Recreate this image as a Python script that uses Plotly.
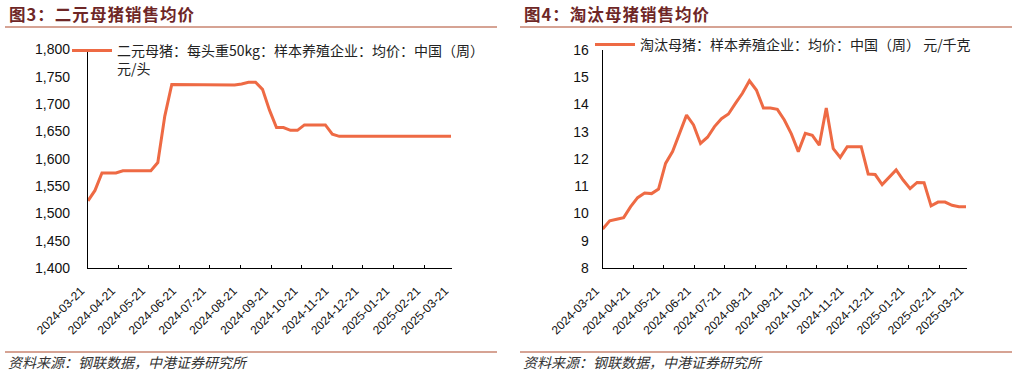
import plotly.graph_objects as go

W, H = 1017, 375

weeks = [
    "2024-03-21", "2024-03-28", "2024-04-04", "2024-04-11", "2024-04-18", "2024-04-25",
    "2024-05-02", "2024-05-09", "2024-05-16", "2024-05-23", "2024-05-30",
    "2024-06-06", "2024-06-13", "2024-06-20", "2024-06-27",
    "2024-07-04", "2024-07-11", "2024-07-18", "2024-07-25",
    "2024-08-01", "2024-08-08", "2024-08-15", "2024-08-22", "2024-08-29",
    "2024-09-05", "2024-09-12", "2024-09-19", "2024-09-26",
    "2024-10-03", "2024-10-10", "2024-10-17", "2024-10-24", "2024-10-31",
    "2024-11-07", "2024-11-14", "2024-11-21", "2024-11-28",
    "2024-12-05", "2024-12-12", "2024-12-19", "2024-12-26",
    "2025-01-02", "2025-01-09", "2025-01-16", "2025-01-23", "2025-01-30",
    "2025-02-06", "2025-02-13", "2025-02-20", "2025-02-27",
    "2025-03-06", "2025-03-13", "2025-03-20",
]

binary_sow_price = [
    1523, 1542, 1574, 1574, 1574, 1578, 1578, 1578, 1578, 1578,
    1593, 1678, 1736, 1736, 1736, 1736, 1736, 1736, 1735, 1735,
    1735, 1735, 1737, 1740, 1740, 1727, 1689, 1657, 1657, 1652,
    1652, 1662, 1662, 1662, 1662, 1645, 1641, 1641, 1641, 1641,
    1641, 1641, 1641, 1641, 1641, 1641, 1641, 1641, 1641, 1641,
    1641, 1641, 1641,
]

cull_sow_price = [
    9.43, 9.73, 9.79, 9.85, 10.25, 10.58, 10.75, 10.73, 10.9, 11.84,
    12.27, 12.94, 13.61, 13.25, 12.57, 12.8, 13.19, 13.48, 13.65, 14.04,
    14.41, 14.87, 14.53, 13.87, 13.87, 13.82, 13.43, 12.92, 12.27, 12.94,
    12.87, 12.51, 13.87, 12.38, 12.06, 12.45, 12.45, 12.45, 11.45, 11.43,
    11.06, 11.33, 11.6, 11.23, 10.91, 11.14, 11.13, 10.28, 10.42, 10.42,
    10.30, 10.25, 10.25,
]

month_ticks = [
    "2024-03-21", "2024-04-21", "2024-05-21", "2024-06-21", "2024-07-21",
    "2024-08-21", "2024-09-21", "2024-10-21", "2024-11-21", "2024-12-21",
    "2025-01-21", "2025-02-21", "2025-03-21",
]

titles = ["图3：二元母猪销售均价", "图4：淘汰母猪销售均价"]
series_names = [
    "二元母猪：每头重50kg：样本养殖企业：均价：中国（周）<br>元/头",
    "淘汰母猪：样本养殖企业：均价：中国（周） 元/千克",
]
source_text = "资料来源：钢联数据，中港证券研究所"

LINE = "#EE6A44"
TITLE_C = "#6E2626"
RULE_C = "#C98571"
NUM_FONT = "Liberation Sans, Arial, Noto Sans CJK SC"
CJK_FONT = "Noto Sans CJK SC, Liberation Sans"


def px(x):
    return x / W


def py(y):
    return 1 - y / H


fig = go.Figure()
fig.add_trace(go.Scatter(x=weeks, y=binary_sow_price, mode="lines", name=series_names[0],
                         line=dict(color=LINE, width=3), xaxis="x", yaxis="y", legend="legend"))
fig.add_trace(go.Scatter(x=weeks, y=cull_sow_price, mode="lines", name=series_names[1],
                         line=dict(color=LINE, width=3), xaxis="x2", yaxis="y2", legend="legend2"))

tick_text = [t + "\u00a0\u00a0\u00a0" for t in month_ticks]

xcommon = dict(type="date", range=["2024-03-21", "2025-03-21"], tickvals=month_ticks,
               ticktext=tick_text, tickangle=-45, ticks="inside", ticklen=3,
               tickcolor="#000", showline=True, linecolor="#000", linewidth=1.3,
               showgrid=False, zeroline=False, automargin=False, ticklabelstandoff=3,
               tickfont=dict(family=NUM_FONT, size=12, color="#111"))
ycommon = dict(showline=True, linecolor="#000", linewidth=1.3, showgrid=False,
               zeroline=False, ticks="", automargin=False,
               tickfont=dict(family=NUM_FONT, size=14, color="#111"))

fig.update_layout(
    width=W, height=H,
    margin=dict(l=0, r=0, t=0, b=0, autoexpand=False),
    paper_bgcolor="white", plot_bgcolor="white",
    xaxis=dict(domain=[px(88), px(452)], anchor="y", **xcommon),
    yaxis=dict(domain=[py(268), py(49.5)], anchor="x", range=[1400, 1800], dtick=50,
               tickformat=",", ticklabelstandoff=14, **ycommon),
    xaxis2=dict(domain=[px(602.7), px(967)], anchor="y2", **xcommon),
    yaxis2=dict(domain=[py(268), py(50)], anchor="x2", range=[8, 16], dtick=1,
                ticklabelstandoff=10, **ycommon),
    legend=dict(x=px(67), y=py(35), xanchor="left", yanchor="top", bgcolor="rgba(0,0,0,0)",
                font=dict(family=CJK_FONT, size=14, color="#222"), itemwidth=40,
                valign="top", tracegroupgap=0),
    legend2=dict(x=px(590), y=py(29), xanchor="left", yanchor="top", bgcolor="rgba(0,0,0,0)",
                 font=dict(family=CJK_FONT, size=14, color="#222"), itemwidth=40),
    showlegend=True,
)

# title / source decorations
for i, x0 in enumerate([5, 520]):
    x1 = x0 + 492
    for yy in (27, 352):
        fig.add_shape(type="line", xref="paper", yref="paper", x0=px(x0), x1=px(x1),
                      y0=py(yy), y1=py(yy), line=dict(color=RULE_C, width=1.6))
    fig.add_annotation(text="<b>" + "\u200a".join(titles[i]) + "</b>", xref="paper", yref="paper",
                       x=px(x0 + 2), y=py(14), xanchor="left", yanchor="middle", showarrow=False,
                       font=dict(family=CJK_FONT, size=16.5, color=TITLE_C, weight=900))
    fig.add_annotation(text="<i>" + source_text + "</i>", xref="paper", yref="paper",
                       x=px(x0 + 1), y=py(362), xanchor="left", yanchor="middle", showarrow=False,
                       font=dict(family=CJK_FONT, size=14, color="#333"))

fig.write_html("out.html", config={"displayModeBar": False},
               post_script="document.body.style.margin='0';")
